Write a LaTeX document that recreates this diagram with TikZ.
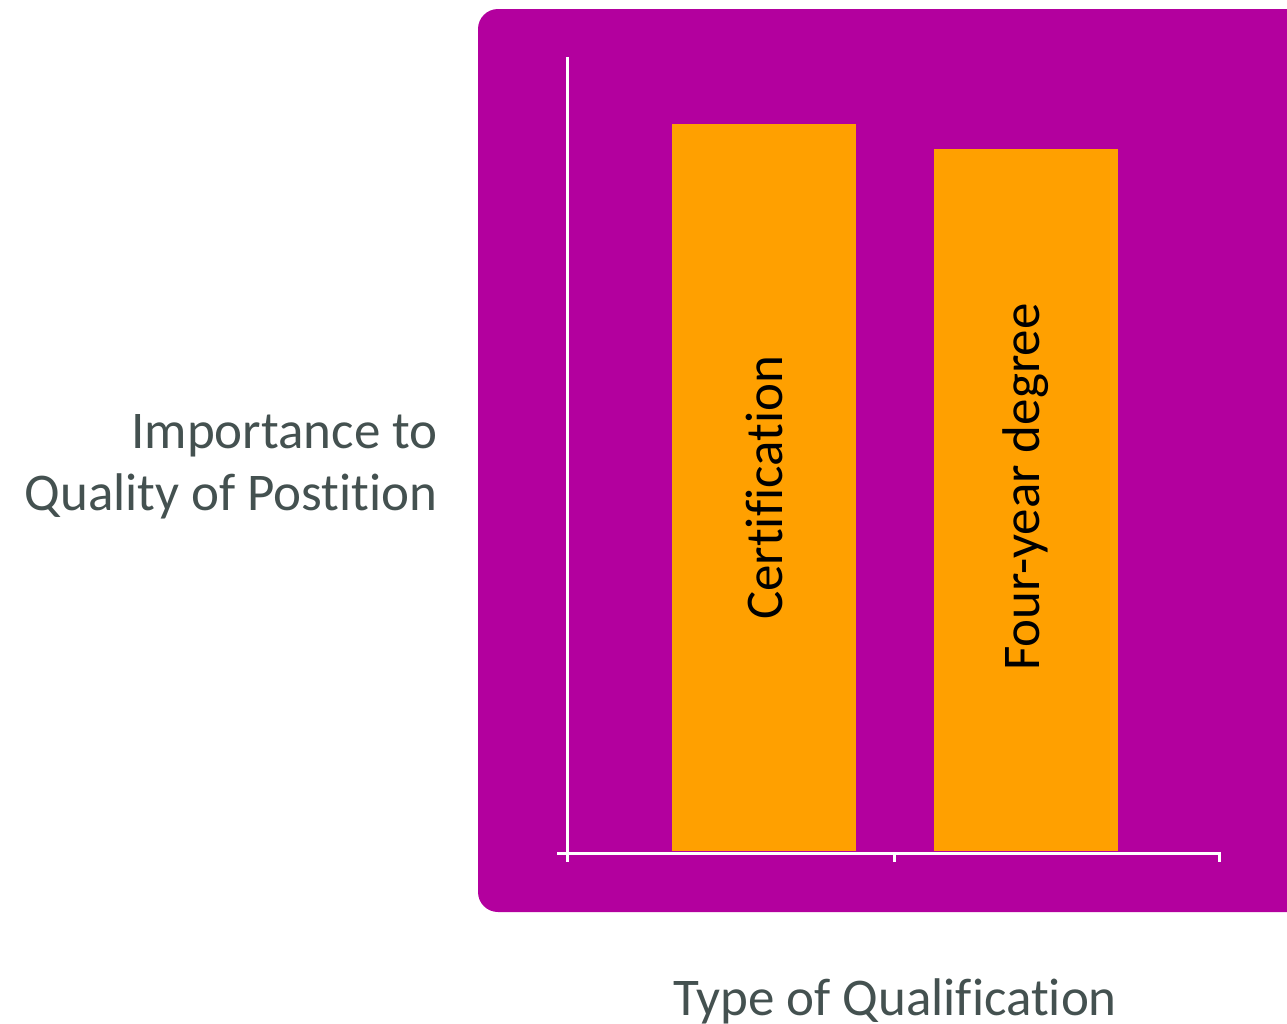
\documentclass[tikz,border=0pt]{standalone}
\usepackage{fontspec}
\setmainfont{Carlito}[Ligatures=NoCommon]
\definecolor{plum}{RGB}{179,0,158}
\definecolor{barfill}{RGB}{255,160,0}
\definecolor{ink}{RGB}{68,81,80}
\begin{document}
\begin{tikzpicture}[x=0.5pt,y=-0.5pt,
  lbl/.style={font=\fontsize{26.5}{31}\selectfont},
  axis/.style={white,line width=1.5pt}]
\useasboundingbox (0,0) rectangle (1287,1024);
\clip (0,0) rectangle (1287,1024);
\fill[plum,rounded corners=10pt] (478,9) rectangle (1320,912);
% bars
\fill[barfill] (672,124) rectangle (856,851);
\fill[barfill] (934,149) rectangle (1118,851);
\node[lbl,rotate=90] (cert) at (764,488) {Certification};
\node[lbl,rotate=90] (four) at (1026,487) {Four-year degree};
% axes
\coordinate (top) at (567,57);
\coordinate (orig) at (567,862);
\coordinate (xbeg) at (557,853);
\coordinate (xend) at (1221,853);
\draw[axis] (top) -- (orig);
\draw[axis] (xbeg) -- (xend);
\foreach \x in {894,1219} \draw[axis] (\x,853) -- (\x,862);
\node[lbl,ink,align=right,inner sep=0pt,anchor=base east] (ylab) at (438,510) {Importance to\\Quality of Postition};
\node[lbl,ink,anchor=base] (xlab) at (895,1015) {Type of Qualification};
\end{tikzpicture}
\end{document}
